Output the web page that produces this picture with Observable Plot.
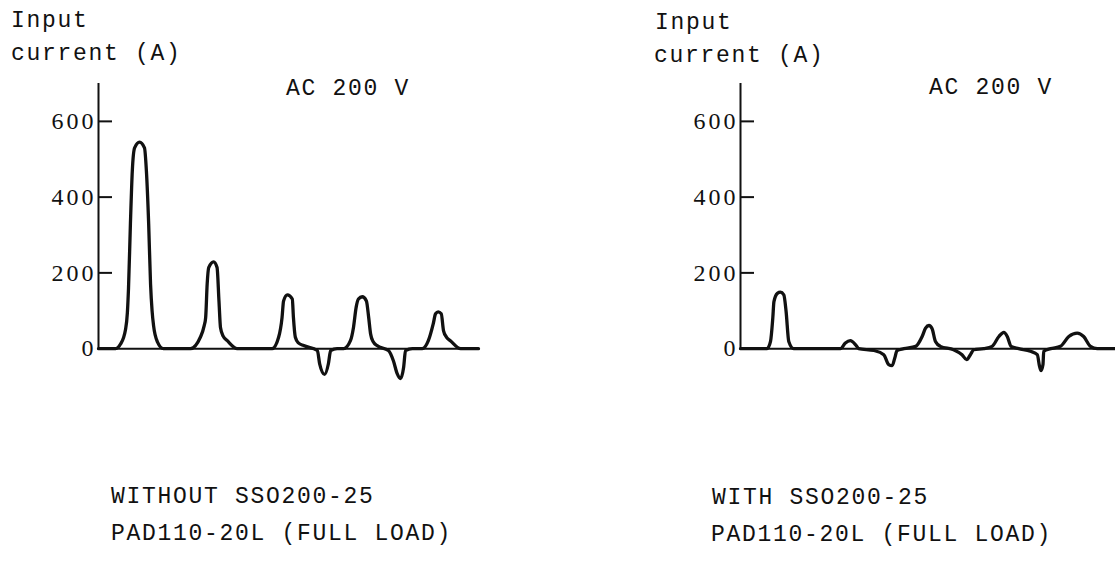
<!DOCTYPE html>
<html><head><meta charset="utf-8">
<script src="https://cdn.jsdelivr.net/npm/d3@7"></script>
<script src="https://cdn.jsdelivr.net/npm/@observablehq/plot@0.6"></script>
<style>
html,body{margin:0;padding:0;background:#fff;}
#page{position:relative;width:1115px;height:562px;overflow:hidden;background:#fff;}
.panel{position:absolute;top:0;}
.panel text{font-family:"Liberation Serif",serif !important;font-size:24px !important;}
.tw{position:absolute;font-family:"Liberation Mono",monospace;font-size:23px;letter-spacing:1.7px;line-height:23px;white-space:pre;color:#111;}
</style></head><body><div id="page"></div>
<script>
// y axis ticks (A)
const yTicks = [0, 200, 400, 600];
const yTickLabels = ["0", "200", "400", "600"];

// Left: WITHOUT SSO200-25 — time (arbitrary units 0..100) and input current (A)
const leftT = [0, 4.5, 5.8, 7.1, 7.6, 7.9, 8.4, 8.9, 9.5, 10.8, 12.1, 12.6, 13.2, 13.7, 14.1, 14.5, 15.5, 17.1,
  24.2, 26.8, 27.8, 28.2, 28.6, 29.0, 30.3, 31.2, 31.7, 32.1, 32.8, 33.9, 36.5,
  45.7, 47.4, 48.3, 48.7, 49.7, 51.0, 51.3, 51.8, 52.6, 54.0,
  57.6, 58.2, 59.5, 60.5, 61.1, 62.8,
  64.5, 66.3, 67.1, 67.8, 68.4, 69.4, 70.5, 71.1, 71.6, 72.3, 73.3,
  76.3, 77.6, 78.6, 79.5, 80.3, 80.8, 82.6,
  85.2, 86.8, 88.1, 88.7, 89.4, 90.2, 90.8, 91.6, 92.6, 95.3, 100];
const leftA = [0, 0, 12, 50, 95, 160, 330, 470, 530, 545, 530, 470, 330, 170, 100, 60, 18, 0,
  0, 30, 60, 82, 171, 214, 229, 214, 126, 56, 33, 21, 0,
  0, 30, 82, 126, 142, 131, 82, 30, 15, 8,
  -5, -40, -68, -40, -5, 0,
  0, 21, 56, 109, 131, 137, 126, 82, 39, 18, 8,
  -5, -32, -66, -79, -49, -5, 0,
  0, 21, 66, 92, 97, 92, 47, 30, 21, 0, 0];

// Right: WITH SSO200-25
const rightT = [0, 7.0, 7.9, 8.5, 8.8, 9.7, 10.5, 11.4, 12.0, 12.7, 14.0,
  26.3, 27.6, 28.9, 30.3, 31.1,
  35.1, 37.7, 39.0, 39.9, 40.6, 41.2, 43.0,
  46.1, 47.8, 48.7, 49.6, 50.4, 51.3, 52.6,
  56.1, 58.3, 59.5, 60.5, 61.4, 64.0,
  66.2, 68.0, 69.3, 70.2, 71.2, 73.2,
  76.3, 78.1, 78.7, 79.1, 79.6, 79.8, 81.6,
  84.2, 86.4, 88.6, 90.3, 92.1, 93.9, 100];
const rightA = [0, 0, 19, 81, 124, 146, 149, 142, 98, 19, 0,
  0, 15, 21, 10, 0,
  -5, -16, -42, -45, -25, -5, 0,
  6, 32, 54, 61, 53, 19, 6,
  -3, -16, -29, -16, -3, 0,
  6, 32, 43, 32, 6, 0,
  -7, -16, -47, -58, -42, -7, 0,
  6, 32, 41, 32, 6, 0, 0];

const yTitle = ["Input", "current (A)"];
const voltage = "AC 200 V";
const leftCaption = ["WITHOUT SSO200-25", "PAD110-20L (FULL LOAD)"];
const rightCaption = ["WITH SSO200-25", "PAD110-20L (FULL LOAD)"];

const ink = "#111";

function panel(t, a) {
  const data = t.map((d, i) => ({t: d, a: a[i]}));
  return Plot.plot({
    width: 480, height: 400,
    marginLeft: 98, marginRight: 2, marginTop: 83, marginBottom: 14,
    x: {domain: [0, 100], axis: null},
    y: {domain: [-100, 700], axis: null},
    style: {background: "transparent", overflow: "visible"},
    marks: [
      Plot.ruleY([0], {stroke: ink, strokeWidth: 2}),
      Plot.ruleX([0], {y1: 0, y2: 700, stroke: ink, strokeWidth: 2}),
      Plot.ruleY(yTicks.filter(d => d > 0), {y: d => d, stroke: ink, strokeWidth: 2, insetRight: 366}),
      Plot.axisY(yTicks, {
        label: null,
        tickSize: 0, tickPadding: 2,
        tickFormat: d => yTickLabels[yTicks.indexOf(d)],
        fill: ink
      }),
      Plot.line(data, {x: "t", y: "a", curve: "monotone-x", stroke: ink, strokeWidth: 3.3, strokeLinejoin: "round"})
    ]
  });
}

const page = document.getElementById("page");
function addText(txt, left, baseline) {
  const d = document.createElement("div");
  d.className = "tw";
  d.textContent = txt;
  d.style.left = left + "px";
  d.style.top = (baseline - 17.6) + "px";
  page.appendChild(d);
}

const p1 = panel(leftT, leftA);
p1.classList.add("panel"); p1.style.left = "0px";
const p2 = panel(rightT, rightA);
p2.classList.add("panel"); p2.style.left = "642px";
for (const p of [p1, p2]) {
  p.querySelectorAll("text").forEach(n => n.setAttribute("letter-spacing", "3"));
  page.appendChild(p);
}

addText(yTitle[0], 11, 28);
addText(yTitle[1], 11, 61);
addText(voltage, 286, 96);
addText(yTitle[0], 655, 30);
addText(yTitle[1], 654, 63);
addText(voltage, 929, 95);
addText(leftCaption[0], 111, 504);
addText(leftCaption[1], 111, 541);
addText(rightCaption[0], 712, 505);
addText(rightCaption[1], 711, 542);
</script></body></html>
